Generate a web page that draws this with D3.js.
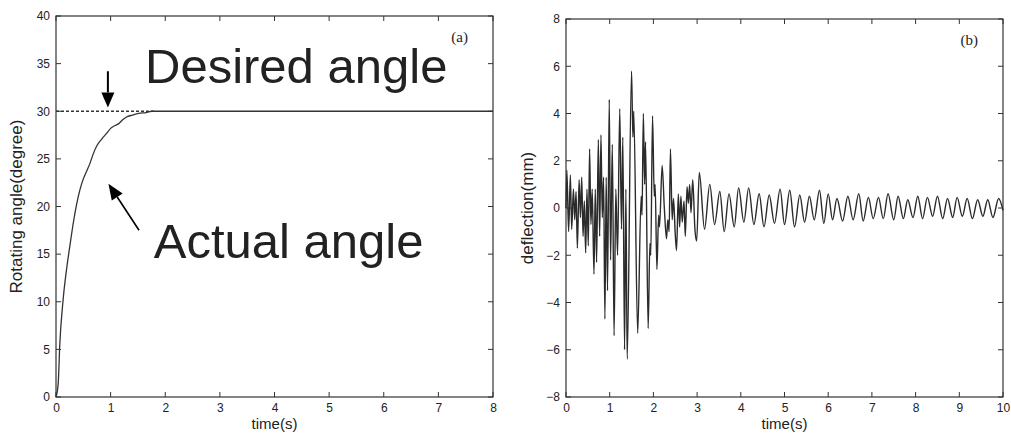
<!DOCTYPE html>
<html>
<head>
<meta charset="utf-8">
<script src="https://cdn.jsdelivr.net/npm/d3@7"></script>
<style>
  body { margin: 0; background: #fff; }
  text { font-family: "Liberation Sans", Arial, sans-serif; fill: #222; }
</style>
</head>
<body>
<div id="chart"></div>
<script>
var w = 1011, h = 446;

// panel (a): rotating angle response
var angleTicksX = [0, 1, 2, 3, 4, 5, 6, 7, 8];
var angleTicksY = [0, 5, 10, 15, 20, 25, 30, 35, 40];
var desiredAngle = 30;
var actualAngle = [
  [0, 0], [0.04, 1.4], [0.07, 5.6], [0.13, 10.2], [0.2, 13.7], [0.26, 16.1],
  [0.32, 18.4], [0.38, 20.3], [0.44, 21.8], [0.5, 22.9], [0.56, 23.7], [0.62, 24.5],
  [0.68, 25.5], [0.75, 26.4], [0.84, 27.1], [0.93, 27.7], [1.0, 28.2], [1.08, 28.5],
  [1.15, 28.7], [1.22, 29.1], [1.29, 29.4], [1.4, 29.6], [1.54, 29.8], [1.65, 29.85],
  [1.75, 30], [8, 30]
];

// panel (b): deflection, read peak by peak
var deflTicksX = [0, 1, 2, 3, 4, 5, 6, 7, 8, 9, 10];
var deflTicksY = [-8, -6, -4, -2, 0, 2, 4, 6, 8];
var deflection = [
  [0, 0], [0.02, 1.6], [0.06, -1.0], [0.1, 1.4], [0.13, -0.9], [0.17, 0.8], [0.2, -0.5],
  [0.23, 0.7], [0.26, -1.7], [0.3, 1.2], [0.33, -0.4], [0.36, 1.3], [0.39, -1.2],
  [0.42, 0.3], [0.45, -1.9], [0.48, 0.8], [0.51, -1.6], [0.54, 2.5], [0.57, -0.7],
  [0.6, 0.8], [0.64, -2.8], [0.67, 0.8], [0.7, -2.3], [0.74, 2.9], [0.77, -1.2],
  [0.8, 3.1], [0.83, -0.4], [0.86, 1.3], [0.89, -4.7], [0.92, 1.3], [0.95, -3.5],
  [0.99, 4.6], [1.02, -2.2], [1.06, 2.7], [1.1, -5.4], [1.14, 0.8], [1.18, -2.0],
  [1.23, 4.2], [1.27, -0.9], [1.3, 3.0], [1.34, -6.0], [1.37, 0.8], [1.4, -6.4],
  [1.5, 5.8], [1.53, 3.0], [1.55, 4.1], [1.64, -5.3], [1.72, 0.5], [1.74, -0.3],
  [1.77, 4.0], [1.8, 1.0], [1.82, 2.8], [1.88, -5.1], [1.92, -1.5], [1.94, -2.0],
  [1.98, 3.9], [2.02, 0.5], [2.04, 1.0], [2.08, -2.6], [2.12, -0.3], [2.14, -0.8],
  [2.2, 1.8], [2.25, 0.0], [2.3, -1.3], [2.33, -0.5], [2.36, -1.0], [2.39, 2.5],
  [2.43, -0.5], [2.46, 0.4], [2.5, -1.1], [2.53, -1.8], [2.57, 0.6], [2.6, -0.8],
  [2.63, 0.5], [2.66, -0.6], [2.7, 0.3], [2.73, -1.2], [2.77, 0.9], [2.8, 0.2],
  [2.83, 1.0], [2.86, -0.2], [2.9, 1.2], [2.95, -0.9], [2.99, -1.4], [3.05, 1.5],
  [3.17, -0.9], [3.29, 1.0], [3.4, -0.7], [3.52, 0.7], [3.62, -1.0], [3.73, 0.6],
  [3.85, -0.8], [3.95, 0.85], [4.07, -0.6], [4.18, 0.85], [4.3, -0.7], [4.42, 0.6],
  [4.53, -0.8], [4.65, 0.55], [4.77, -0.65], [4.9, 0.8], [5.0, -0.7], [5.12, 0.75],
  [5.23, -0.8], [5.35, 0.55], [5.46, -0.6], [5.57, 0.5], [5.68, -0.5], [5.8, 0.75],
  [5.9, -0.65], [6.0, 0.6], [6.1, -0.5], [6.2, 0.4], [6.33, -0.55], [6.45, 0.5],
  [6.57, -0.5], [6.7, 0.6], [6.8, -0.55], [6.92, 0.45], [7.03, -0.45], [7.15, 0.45],
  [7.26, -0.45], [7.37, 0.6], [7.5, -0.5], [7.6, 0.5], [7.72, -0.45], [7.82, 0.35],
  [7.94, -0.4], [8.05, 0.5], [8.16, -0.45], [8.27, 0.45], [8.39, -0.35], [8.5, 0.5],
  [8.62, -0.45], [8.73, 0.4], [8.85, -0.4], [8.95, 0.45], [9.07, -0.35], [9.18, 0.4],
  [9.3, -0.45], [9.42, 0.35], [9.54, -0.35], [9.65, 0.35], [9.77, -0.4], [9.9, 0.4],
  [10, -0.1]
];

var svg = d3.select("#chart").append("svg")
    .attr("width", w)
    .attr("height", h);

// draws a MATLAB style box with inward ticks on all four sides
function drawFrame(g, x, y, ticksX, ticksY, yLabel, yLabelX, panelTag) {
    var x0 = x.range()[0], x1 = x.range()[1];
    var y0 = y.range()[1], y1 = y.range()[0];
    var tick = 5;

    g.append("g")
        .attr("transform", "translate(0," + y1 + ")")
        .call(d3.axisBottom(x).tickValues(ticksX).tickSize(0).tickPadding(6).tickFormat(d3.format("d")));
    g.append("g")
        .attr("transform", "translate(" + x0 + ",0)")
        .call(d3.axisLeft(y).tickValues(ticksY).tickSize(0).tickPadding(6).tickFormat(d3.format("d")));
    g.selectAll(".domain").remove();
    g.selectAll(".tick text")
        .attr("font-size", "12px")
        .attr("fill", "#222");

    var tg = g.append("g").attr("stroke", "#333").attr("stroke-width", 1);
    ticksX.forEach(function(d) {
        tg.append("line").attr("x1", x(d)).attr("x2", x(d)).attr("y1", y1).attr("y2", y1 - tick);
        tg.append("line").attr("x1", x(d)).attr("x2", x(d)).attr("y1", y0).attr("y2", y0 + tick);
    });
    ticksY.forEach(function(d) {
        tg.append("line").attr("x1", x0).attr("x2", x0 + tick).attr("y1", y(d)).attr("y2", y(d));
        tg.append("line").attr("x1", x1).attr("x2", x1 - tick).attr("y1", y(d)).attr("y2", y(d));
    });

    g.append("rect")
        .attr("x", x0).attr("y", y0)
        .attr("width", x1 - x0).attr("height", y1 - y0)
        .attr("fill", "none")
        .attr("stroke", "#333")
        .attr("stroke-width", 1.2);

    g.append("text")
        .attr("x", (x0 + x1) / 2)
        .attr("y", y1 + 32)
        .attr("text-anchor", "middle")
        .attr("font-size", "15px")
        .text("time(s)");

    g.append("text")
        .attr("transform", "translate(" + yLabelX + "," + ((y0 + y1) / 2) + ") rotate(-90)")
        .attr("text-anchor", "middle")
        .attr("font-size", "17px")
        .text(yLabel);

    // panel tag is set in a serif face, so it has to beat the css rule
    g.append("text")
        .attr("x", x1 - 25)
        .attr("y", y0 + 26)
        .attr("text-anchor", "end")
        .style("font-family", "'Liberation Serif', 'Times New Roman', serif")
        .attr("font-size", "15px")
        .text(panelTag);
}

// arrow with a solid triangular head; ends given in pixels from the scales
function arrow(g, ax, ay, bx, by, width, headLen, headHalf) {
    var ang = Math.atan2(by - ay, bx - ax);
    var cx = bx - headLen * Math.cos(ang), cy = by - headLen * Math.sin(ang);
    g.append("line")
        .attr("x1", ax).attr("y1", ay).attr("x2", cx).attr("y2", cy)
        .attr("stroke", "#000").attr("stroke-width", width);
    var px = -Math.sin(ang) * headHalf, py = Math.cos(ang) * headHalf;
    g.append("path")
        .attr("d", "M" + bx + "," + by + "L" + (cx + px) + "," + (cy + py) + "L" + (cx - px) + "," + (cy - py) + "Z")
        .attr("fill", "#000");
}

// ---- panel (a)
var xa = d3.scaleLinear().domain([0, 8]).range([56, 493]);
var ya = d3.scaleLinear().domain([0, 40]).range([397, 16]);
var ga = svg.append("g");
drawFrame(ga, xa, ya, angleTicksX, angleTicksY, "Rotating angle(degree)", 22, "(a)");

ga.append("line")
    .attr("x1", xa(0)).attr("x2", xa(1.8))
    .attr("y1", ya(desiredAngle)).attr("y2", ya(desiredAngle))
    .attr("stroke", "#333")
    .attr("stroke-width", 1.4)
    .attr("stroke-dasharray", "3,2");

ga.append("path")
    .datum(actualAngle)
    .attr("fill", "none")
    .attr("stroke", "#333")
    .attr("stroke-width", 1.3)
    .attr("d", d3.line()
        .x(function(d) { return xa(d[0]); })
        .y(function(d) { return ya(d[1]); })
        .curve(d3.curveMonotoneX));

arrow(ga, xa(0.95), ya(34.2), xa(0.95), ya(30.4), 2, 15, 6.5);
arrow(ga, xa(1.52), ya(17.5), xa(0.96), ya(22.4), 1.6, 16, 6.5);

ga.append("text")
    .attr("x", xa(1.63)).attr("y", ya(33.0))
    .attr("font-size", "49px")
    .attr("fill", "#000")
    .text("Desired angle");

ga.append("text")
    .attr("x", xa(1.79)).attr("y", ya(14.6))
    .attr("font-size", "49px")
    .attr("fill", "#000")
    .text("Actual angle");

// ---- panel (b)
var xb = d3.scaleLinear().domain([0, 10]).range([566, 1003]);
var yb = d3.scaleLinear().domain([-8, 8]).range([397, 19]);
var gb = svg.append("g");
drawFrame(gb, xb, yb, deflTicksX, deflTicksY, "deflection(mm)", 533, "(b)");

gb.append("path")
    .datum(deflection)
    .attr("fill", "none")
    .attr("stroke", "#2b2b2b")
    .attr("stroke-width", 1.4)
    .attr("d", d3.line()
        .x(function(d) { return xb(d[0]); })
        .y(function(d) { return yb(d[1]); })
        .curve(d3.curveMonotoneX));
</script>
</body>
</html>
